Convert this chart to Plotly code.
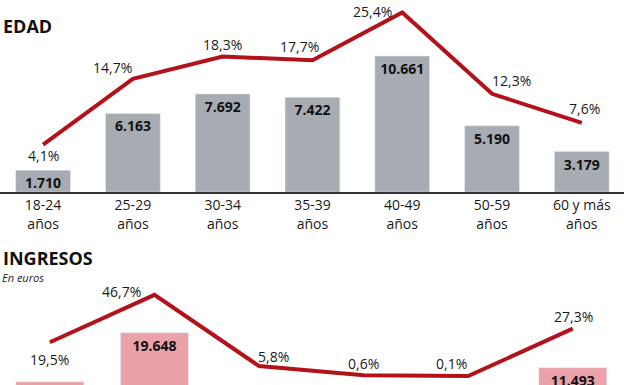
import plotly.graph_objects as go

# ---- Data ----
edad_cats = ["18-24<br>años", "25-29<br>años", "30-34<br>años", "35-39<br>años",
             "40-49<br>años", "50-59<br>años", "60 y más<br>años"]
edad_vals = [1710, 6163, 7692, 7422, 10661, 5190, 3179]
edad_pct = [4.1, 14.7, 18.3, 17.7, 25.4, 12.3, 7.6]

ingresos_cats = ["Tramo 1", "Tramo 2", "Tramo 3", "Tramo 4", "Tramo 5", "Tramo 6"]
ingresos_vals = [8204, 19648, 2440, 252, 42, 11493]
ingresos_pct = [19.5, 46.7, 5.8, 0.6, 0.1, 27.3]

# label offsets (style)
edad_off = [(0, -11), (-20, 11), (0, 12), (-13, 14), (-30, 1), (19, 13), (3, 14)]
ing_off = [(0, -17), (-33, 3), (14, 10), (0, 12), (-17, 13), (1, 12)]

RED = "#b3121b"
GREY = "#a6acb1"
PINK = "#eaa1a7"
FONT = "Open Sans"

def fmt_pct(p):
    return f"{p:.1f}".replace(".", ",") + "%"

def fmt_num(v):
    return f"{v:,}".replace(",", ".")

fig = go.Figure()

# ---- Top panel: EDAD ----
fig.add_trace(go.Bar(
    x=edad_cats, y=edad_vals, marker_color=GREY, width=0.61,
    text=[fmt_num(v) for v in edad_vals], textposition="inside",
    insidetextanchor="end", textangle=0, constraintext="none",
    textfont=dict(family=FONT, size=14, color="#111111", weight="bold"),
    xaxis="x", yaxis="y", showlegend=False, hoverinfo="skip"))
fig.add_trace(go.Scatter(
    x=edad_cats, y=edad_pct, mode="lines", line=dict(color=RED, width=4),
    xaxis="x", yaxis="y2", showlegend=False, cliponaxis=False, hoverinfo="skip"))

# ---- Bottom panel: INGRESOS ----
fig.add_trace(go.Bar(
    x=ingresos_cats, y=ingresos_vals, marker_color=PINK, width=0.65,
    text=[fmt_num(v) for v in ingresos_vals], textposition="inside",
    insidetextanchor="end", textangle=0, constraintext="none",
    textfont=dict(family=FONT, size=14, color="#111111", weight="bold"),
    xaxis="x2", yaxis="y3", showlegend=False, hoverinfo="skip"))
fig.add_trace(go.Scatter(
    x=ingresos_cats, y=ingresos_pct, mode="lines", line=dict(color=RED, width=4),
    xaxis="x2", yaxis="y4", showlegend=False, cliponaxis=False, hoverinfo="skip"))

annotations = []
for c, p, (dx, dy) in zip(edad_cats, edad_pct, edad_off):
    annotations.append(dict(x=c, y=p, xref="x", yref="y2", text=fmt_pct(p),
                            showarrow=False, xshift=dx, yshift=dy,
                            font=dict(family=FONT, size=14, color="#1a1a1a")))
for c, p, (dx, dy) in zip(ingresos_cats, ingresos_pct, ing_off):
    annotations.append(dict(x=c, y=p, xref="x2", yref="y4", text=fmt_pct(p),
                            showarrow=False, xshift=dx, yshift=dy,
                            font=dict(family=FONT, size=14, color="#1a1a1a")))

annotations += [
    dict(x=0.002, y=1 - 26 / 385, xref="paper", yref="paper", yanchor="middle",
         xanchor="left", text="<b>EDAD</b>", showarrow=False,
         font=dict(family=FONT, size=18, color="#111111")),
    dict(x=0.002, y=1 - 258 / 385, xref="paper", yref="paper", yanchor="middle",
         xanchor="left", text="<b>INGRESOS</b>", showarrow=False,
         font=dict(family=FONT, size=18, color="#111111")),
    dict(x=0.0, y=1 - 277 / 385, xref="paper", yref="paper", yanchor="middle",
         xanchor="left", text="<i>En euros</i>", showarrow=False,
         font=dict(family=FONT, size=11, color="#222222")),
]

fig.update_layout(
    annotations=annotations,
    width=624, height=385,
    margin=dict(l=0, r=0, t=0, b=0),
    paper_bgcolor="white", plot_bgcolor="white",
    bargap=0.4,
    hovermode=False,
    xaxis=dict(domain=[0, 1], range=[-0.48, 6.47], anchor="y",
               showline=True, linecolor="#333333", linewidth=1.5,
               showgrid=False, zeroline=False, ticks="",
               tickfont=dict(family=FONT, size=14, color="#1a1a1a")),
    yaxis=dict(domain=[0.501, 1], range=[0, 15047], visible=False, showgrid=False),
    yaxis2=dict(overlaying="y", range=[-3.55, 27.42], visible=False, showgrid=False),
    xaxis2=dict(domain=[0, 1], range=[-0.477, 5.49], anchor="y3",
                showticklabels=False, showline=False, showgrid=False,
                zeroline=False, ticks=""),
    yaxis3=dict(domain=[0, 0.33], range=[7459, 37063], visible=False, showgrid=False),
    yaxis4=dict(overlaying="y3", range=[-5.06, 67.9], visible=False, showgrid=False),
)

fig.write_html("out.html",
               config={"displayModeBar": False, "staticPlot": True},
               post_script="document.body.style.margin='0';document.body.style.overflow='hidden';")
